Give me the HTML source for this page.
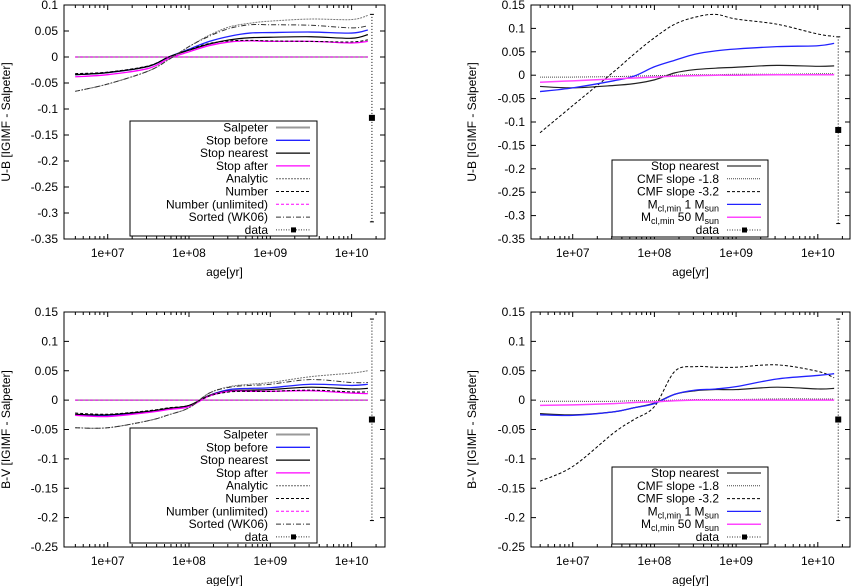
<!DOCTYPE html>
<html><head><meta charset="utf-8"><style>
html,body{margin:0;padding:0;background:#fff}
svg{display:block;font-family:"Liberation Sans",sans-serif;font-size:12px}
</style></head><body>
<svg id="c" width="851" height="586" viewBox="0 0 851 586"></svg>
<script>
const logAges=[6.6,7,7.5,7.75,8,8.25,8.5,8.75,9,9.5,10,10.2];
// top-left U-B
const tlSalpeter=[0,0,0,0,0,0,0,0,0,0,0,0];
const tlStopBefore=[-0.034,-0.030,-0.018,0.0,0.015,0.030,0.040,0.046,0.047,0.048,0.046,0.052];
const tlStopNearest=[-0.034,-0.030,-0.018,0.0,0.013,0.025,0.033,0.037,0.038,0.039,0.036,0.043];
const tlStopAfter=[-0.038,-0.034,-0.022,-0.003,0.010,0.022,0.029,0.031,0.030,0.030,0.027,0.030];
const tlAnalytic=[-0.066,-0.052,-0.027,-0.005,0.020,0.042,0.058,0.065,0.069,0.073,0.072,0.080];
const tlNumber=[-0.032,-0.029,-0.017,0.0,0.014,0.026,0.031,0.032,0.031,0.030,0.029,0.033];
const tlNumberUnl=[0,0,0,0,0,0,0,0,0,0,0,0];
const tlSorted=[-0.066,-0.052,-0.027,-0.005,0.020,0.040,0.055,0.062,0.062,0.061,0.056,0.060];
// top-right U-B
const trStopNearest=[-0.024,-0.027,-0.022,-0.018,-0.010,0.005,0.012,0.015,0.017,0.021,0.019,0.020];
const trCmf18=[-0.004,-0.004,-0.003,-0.002,-0.001,0,0.001,0.001,0.002,0.002,0.003,0.003];
const trCmf32=[-0.123,-0.065,0.007,0.045,0.080,0.109,0.124,0.130,0.120,0.109,0.088,0.083];
const trM1=[-0.035,-0.027,-0.012,-0.002,0.018,0.032,0.045,0.052,0.056,0.061,0.063,0.068];
const trM50=[-0.015,-0.012,-0.008,-0.006,-0.004,-0.002,-0.001,0,0,0.001,0.001,0.001];
// bottom-left B-V
const blSalpeter=[0,0,0,0,0,0,0,0,0,0,0,0];
const blStopBefore=[-0.025,-0.026,-0.020,-0.015,-0.010,0.008,0.018,0.020,0.021,0.027,0.025,0.027];
const blStopNearest=[-0.024,-0.025,-0.019,-0.014,-0.009,0.008,0.016,0.017,0.018,0.022,0.019,0.020];
const blStopAfter=[-0.026,-0.028,-0.021,-0.016,-0.011,0.007,0.015,0.015,0.015,0.016,0.012,0.011];
const blAnalytic=[-0.047,-0.047,-0.035,-0.025,-0.013,0.012,0.023,0.027,0.030,0.040,0.046,0.050];
const blNumber=[-0.022,-0.024,-0.018,-0.013,-0.009,0.007,0.014,0.015,0.015,0.017,0.014,0.014];
const blNumberUnl=[0,0,0,0,0,0,0,0,0,0,0,0];
const blSorted=[-0.047,-0.047,-0.035,-0.025,-0.013,0.012,0.022,0.025,0.027,0.035,0.030,0.030];
// bottom-right B-V
const brStopNearest=[-0.023,-0.025,-0.020,-0.013,-0.005,0.010,0.016,0.018,0.018,0.022,0.019,0.020];
const brCmf18=[-0.002,-0.002,-0.002,-0.001,-0.001,0,0.001,0.001,0.001,0.002,0.002,0.002];
const brCmf32=[-0.138,-0.113,-0.056,-0.033,-0.011,0.049,0.057,0.056,0.056,0.060,0.049,0.038];
const brM1=[-0.025,-0.026,-0.020,-0.013,-0.006,0.010,0.017,0.019,0.023,0.036,0.042,0.045];
const brM50=[-0.009,-0.008,-0.006,-0.004,-0.003,-0.001,0,0,0,0,0,0];
// data points (log age, value, err low, err high)
const ubData=[10.25,-0.117,-0.317,0.082];
const bvData=[10.25,-0.033,-0.205,0.138];
const xTickLogs=[7,8,9,10];
const xTickLabels=["1e+07","1e+08","1e+09","1e+10"];
const tlYTicks=[0.1,0.05,0,-0.05,-0.1,-0.15,-0.2,-0.25,-0.3,-0.35];
const trYTicks=[0.15,0.1,0.05,0,-0.05,-0.1,-0.15,-0.2,-0.25,-0.3,-0.35];
const bYTicks=[0.15,0.1,0.05,0,-0.05,-0.1,-0.15,-0.2,-0.25];

const svg=document.getElementById('c');
const NS='http://www.w3.org/2000/svg';
function el(t,a,p){const e=document.createElementNS(NS,t);for(const k in a)e.setAttribute(k,a[k]);(p||svg).appendChild(e);return e;}
function fmt(v){return (Math.round(v*100)/100).toString();}

function panel(cfg){
  const g=el('g',{});
  
  
  const {x0,x1,y0,y1,ymin,ymax,lx0,lx1}=cfg;
  const X=l=>x0+(l-lx0)/(lx1-lx0)*(x1-x0);
  const Y=v=>y1-(v-ymin)/(ymax-ymin)*(y1-y0);
  cfg.yTicks.forEach(t=>{
    const y=Y(t);
    el('line',{x1:x0,x2:x0+5,y1:y,y2:y,stroke:'#000'},g);
    el('line',{x1:x1,x2:x1-5,y1:y,y2:y,stroke:'#000'},g);
    const tx=el('text',{x:x0-6,y:y+4,'text-anchor':'end'},g);tx.textContent=fmt(t);
    
    
  });
  xTickLogs.forEach((l,i)=>{
    const x=X(l);
    el('line',{x1:x,x2:x,y1:y1,y2:y1-5,stroke:'#000'},g);
    el('line',{x1:x,x2:x,y1:y0,y2:y0+5,stroke:'#000'},g);
    for(let m=2;m<10;m++){const xm=X(l+Math.log10(m));if(xm<x1){el('line',{x1:xm,x2:xm,y1:y1,y2:y1-3,stroke:'#000'},g);el('line',{x1:xm,x2:xm,y1:y0,y2:y0+3,stroke:'#000'},g);}}
    const tx=el('text',{x:x,y:y1+18,'text-anchor':'middle'},g);tx.textContent=xTickLabels[i];
    
    
  });
  for(let m=4;m<10;m++){const xm=X(6+Math.log10(m));if(xm>x0){el('line',{x1:xm,x2:xm,y1:y1,y2:y1-3,stroke:'#000'},g);el('line',{x1:xm,x2:xm,y1:y0,y2:y0+3,stroke:'#000'},g);}}
  const xt=el('text',{x:(x0+x1)/2,y:y1+37,'text-anchor':'middle'},g);xt.textContent='age[yr]';
  
  
  const yt=el('text',{x:0,y:0,'text-anchor':'middle',transform:`translate(${cfg.ylx},${(y0+y1)/2}) rotate(-90)`},g);yt.textContent=cfg.ylabel;
  
  
  // series
  cfg.series.forEach(s=>{
    const pts=logAges.map((l,i)=>[X(l),Y(s.vals[i])]);
    let d='M'+pts[0][0]+','+pts[0][1];
    for(let i=0;i<pts.length-1;i++){
      const p0=pts[Math.max(0,i-1)],p1=pts[i],p2=pts[i+1],p3=pts[Math.min(pts.length-1,i+2)];
      const c1=[p1[0]+(p2[0]-p0[0])/6,p1[1]+(p2[1]-p0[1])/6];
      const c2=[p2[0]-(p3[0]-p1[0])/6,p2[1]-(p3[1]-p1[1])/6];
      d+=` C${c1[0]},${c1[1]} ${c2[0]},${c2[1]} ${p2[0]},${p2[1]}`;
    }
    const p=el('path',{d:d,fill:'none',stroke:s.color,'stroke-width':s.w||1,'stroke-dasharray':s.dash||'none'},g);
    
    
  });
  // data error bar
  const dd=cfg.data;const dx=X(dd[0]);
  const eb=el('line',{x1:dx,x2:dx,y1:Y(dd[2]),y2:Y(dd[3]),stroke:'#000','stroke-dasharray':'1,2'},g);
  
  
  el('line',{x1:dx-2,x2:dx+2,y1:Y(dd[2]),y2:Y(dd[2]),stroke:'#000'},g);
  el('line',{x1:dx-2,x2:dx+2,y1:Y(dd[3]),y2:Y(dd[3]),stroke:'#000'},g);
  const dp=el('rect',{x:dx-3,y:Y(dd[1])-3,width:6,height:6,fill:'#000'},g);
  
  
  // frame
  el('rect',{x:x0,y:y0,width:x1-x0,height:y1-y0,fill:'none',stroke:'#000'},g);
  // legend
  const L=cfg.legend;
  const lg=el('g',{},g);
  
  
  el('rect',{x:L.x,y:L.y,width:L.w,height:L.h,fill:'#fff',stroke:'#000'},lg);
  L.items.forEach((it,i)=>{
    const y=L.y+L.first+i*L.step;
    const t=el('text',{x:L.tx,y:y+4,'text-anchor':'end'},lg);
    if(it.html){t.innerHTML=it.html;}else t.textContent=it.label;
    
    
    el('line',{x1:L.tx+8,x2:L.tx+42,y1:y,y2:y,stroke:it.color,'stroke-width':it.w||1,'stroke-dasharray':it.dash||'none'},lg);
    if(it.pt)el('rect',{x:L.tx+23,y:y-2.5,width:5,height:5,fill:'#000'},lg);
  });
}
const sub=(a,b)=>`M<tspan font-size="9" dy="3">cl,min</tspan><tspan dy="-3"> ${a} M</tspan><tspan font-size="9" dy="3">sun</tspan>`;
const leftItems=[
 {label:'Salpeter',color:'#999',w:2},
 {label:'Stop before',color:'#22f',w:1.3},
 {label:'Stop nearest',color:'#000',w:1.3},
 {label:'Stop after',color:'#f0f',w:1.3},
 {label:'Analytic',color:'#666',dash:'2,1'},
 {label:'Number',color:'#000',dash:'3,2'},
 {label:'Number (unlimited)',color:'#f0f',dash:'3,2'},
 {label:'Sorted (WK06)',color:'#333',dash:'5,2,1,2'},
 {label:'data',color:'#333',dash:'1,1.5',pt:true}];
const rightItems=[
 {label:'Stop nearest',color:'#555',w:1.5},
 {label:'CMF slope -1.8',color:'#444',dash:'1,1'},
 {label:'CMF slope -3.2',color:'#000',dash:'3,2'},
 {html:sub('1'),color:'#22f',w:1.3},
 {html:sub('50'),color:'#f4f',w:1.5},
 {label:'data',color:'#333',dash:'1,1.5',pt:true}];
function leftSeries(a){return [
 {vals:a[0],color:'#999',w:1.5},{vals:a[1],color:'#22f',w:1.3},{vals:a[2],color:'#000',w:1.2},
 {vals:a[3],color:'#f0f',w:1.3},{vals:a[4],color:'#777',dash:'2,1'},{vals:a[5],color:'#000',dash:'3,2'},
 {vals:a[6],color:'#f0f',dash:'3,2'},{vals:a[7],color:'#333',dash:'5,2,1,2'}];}
function rightSeries(a){return [
 {vals:a[0],color:'#222',w:1.2},{vals:a[1],color:'#444',dash:'1,1'},{vals:a[2],color:'#000',dash:'3,2'},
 {vals:a[3],color:'#22f',w:1.3},{vals:a[4],color:'#f4f',w:1.5}];}
const lx0=7-(107.7-64)/81.3, lx1=7+(385-107.7)/81.3;
const rx0=7-(572.7-531)/81.7, rx1=7+(850-572.7)/81.7;
panel({name:'panel-ub-imf-variants',x0:64,x1:385,y0:5,y1:239,ymin:-0.35,ymax:0.1,lx0:lx0,lx1:lx1,yTicks:tlYTicks,ylx:10,ylabel:'U-B [IGIMF - Salpeter]',
 series:leftSeries([tlSalpeter,tlStopBefore,tlStopNearest,tlStopAfter,tlAnalytic,tlNumber,tlNumberUnl,tlSorted]),data:ubData,
 legend:{x:130,y:121,w:187,h:115,first:6.5,step:12.8,tx:268,items:leftItems}});
panel({name:'panel-ub-cmf-variants',x0:531,x1:850,y0:5,y1:239,ymin:-0.35,ymax:0.15,lx0:rx0,lx1:rx1,yTicks:trYTicks,ylx:476,ylabel:'U-B [IGIMF - Salpeter]',
 series:rightSeries([trStopNearest,trCmf18,trCmf32,trM1,trM50]),data:ubData,
 legend:{x:612,y:160,w:156,h:77,first:6,step:12.8,tx:719,items:rightItems}});
panel({name:'panel-bv-imf-variants',x0:64,x1:385,y0:312,y1:547,ymin:-0.25,ymax:0.15,lx0:lx0,lx1:lx1,yTicks:bYTicks,ylx:10,ylabel:'B-V [IGIMF - Salpeter]',
 series:leftSeries([blSalpeter,blStopBefore,blStopNearest,blStopAfter,blAnalytic,blNumber,blNumberUnl,blSorted]),data:bvData,
 legend:{x:130,y:428,w:187,h:115,first:6.5,step:12.8,tx:268,items:leftItems}});
panel({name:'panel-bv-cmf-variants',x0:531,x1:850,y0:312,y1:547,ymin:-0.25,ymax:0.15,lx0:rx0,lx1:rx1,yTicks:bYTicks,ylx:476,ylabel:'B-V [IGIMF - Salpeter]',
 series:rightSeries([brStopNearest,brCmf18,brCmf32,brM1,brM50]),data:bvData,
 legend:{x:612,y:467,w:156,h:77,first:6,step:12.8,tx:719,items:rightItems}});
</script>
</body></html>
